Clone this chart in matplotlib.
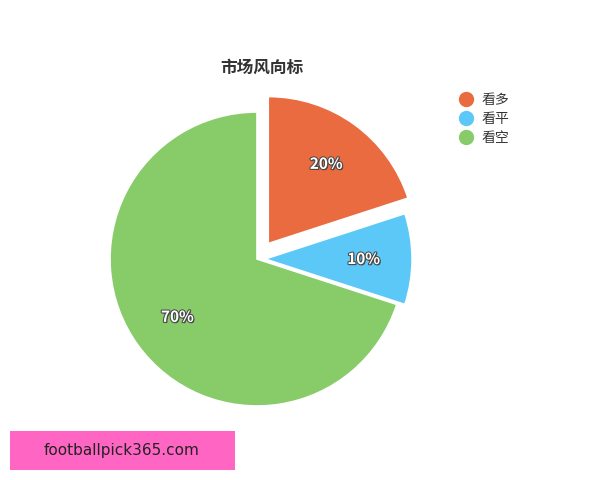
import matplotlib
matplotlib.use("Agg")
import matplotlib.pyplot as plt
import matplotlib.patheffects as pe
from matplotlib.lines import Line2D
from matplotlib.patches import Rectangle

plt.rcParams['font.family'] = ['Noto Sans CJK SC', 'DejaVu Sans']

# 数据
labels = ['看多', '看平', '看空']
shares = [20, 10, 70]
colors = ['#E96B3F', '#5CC8F7', '#88CC69']
explode = [0.13, 0.055, 0]
title = '市场风向标'
watermark = 'footballpick365.com'

W, H = 600, 480
fig = plt.figure(figsize=(W / 100, H / 100), dpi=100)
fig.patch.set_facecolor('white')

# 饼图区域（中心约在 257,259 像素，半径约 147 像素）
cx, cy, r, pad = 257, 259, 147, 1.25
half = r * pad
ax = fig.add_axes([(cx - half) / W, (H - cy - half) / H, 2 * half / W, 2 * half / H])

wedges, texts, autotexts = ax.pie(
    shares, colors=colors, explode=explode, startangle=90, counterclock=False,
    autopct='%d%%', pctdistance=0.67,
    wedgeprops=dict(edgecolor='white', linewidth=1.2),
    textprops=dict(color='white', fontsize=11, fontweight='bold'),
)
for t in autotexts:
    t.set_path_effects([pe.withSimplePatchShadow(offset=(0.8, -0.8), shadow_rgbFace='#333333', alpha=0.9),
                        pe.Stroke(linewidth=1.5, foreground='#4a4a4a'), pe.Normal()])
ax.set_xlim(-pad, pad)
ax.set_ylim(-pad, pad)
ax.axis('off')

fig.text(262 / W, 1 - 68 / H, title, ha='center', va='center',
         fontsize=12, fontweight='bold', color='#333333')

handles = [Line2D([], [], marker='o', linestyle='none', markersize=10,
                  markerfacecolor=c, markeredgecolor=c) for c in colors]
fig.legend(handles, labels, loc='upper left', bbox_to_anchor=(452 / W, 1 - 86 / H),
           frameon=False, fontsize=10, handletextpad=0.6, labelspacing=0.35,
           handlelength=1.0, borderpad=0, labelcolor='#333333')

# 底部水印
fig.patches.append(Rectangle((10 / W, 10 / H), 225 / W, 39 / H, transform=fig.transFigure,
                             facecolor='#FF66C4', edgecolor='none'))
fig.text(122 / W, 1 - 450 / H, watermark, ha='center', va='center',
         fontsize=11, color='#222222', family=['DejaVu Sans'])

fig.savefig('out.png', dpi=100)
